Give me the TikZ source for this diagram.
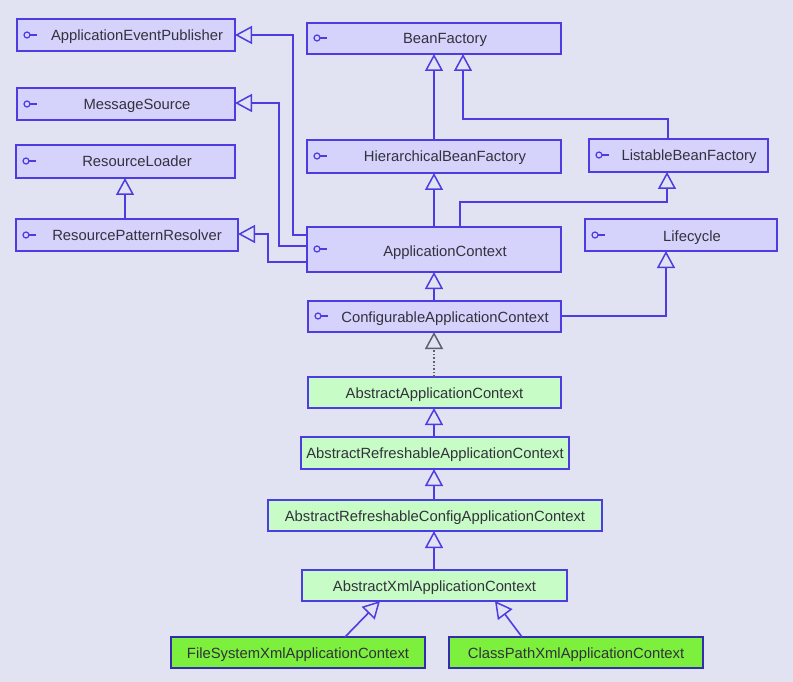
\documentclass[tikz,border=0pt]{standalone}
\usepackage{fontspec}
\setmainfont{Liberation Sans}
\usetikzlibrary{arrows.meta}
\definecolor{bgcol}{RGB}{225,227,243}
\definecolor{ifill}{RGB}{213,210,251}
\definecolor{bline}{RGB}{76,60,226}
\definecolor{afill}{RGB}{200,252,198}
\definecolor{cfill}{RGB}{124,240,60}
\definecolor{cline}{RGB}{50,45,170}
\definecolor{dline}{RGB}{95,95,110}
\definecolor{tcol}{RGB}{50,50,60}
\tikzset{
  x=1pt,y=-1pt,
  iface/.style={draw=bline,fill=ifill,line width=1.6pt},
  absbox/.style={draw=bline,fill=afill,line width=1.6pt},
  conbox/.style={draw=cline,fill=cfill,line width=2.6pt},
  lbl/.style={font=\fontsize{14.8}{16}\selectfont,text=tcol,inner sep=0pt,anchor=base},
  inh/.style={draw=bline,line width=1.6pt,-{Triangle[open,length=17pt,width=18pt,line width=1.5pt]}},
  real/.style={draw=dline,line width=1.6pt,dotted,-{Triangle[open,length=17pt,width=18pt,line width=1.5pt]}},
  ico/.style={draw=bline,line width=1.2pt}
}
\newcommand{\icon}[2]{%
  \draw[ico] (#1+10,#2) circle (3pt);
  \draw[ico] (#1+13,#2) -- (#1+20,#2);
}
\begin{document}
\begin{tikzpicture}
\useasboundingbox (0,0) rectangle (793,682);
\fill[bgcol] (0,0) rectangle (793,682);

% interface boxes
\path[iface] (17,19) rectangle (235,51); \icon{17}{35}
\node[lbl] (AEP) at (137,40.5) {ApplicationEventPublisher};
\path[iface] (17,88) rectangle (235,120); \icon{17}{104}
\node[lbl] (MS) at (137,109.5) {MessageSource};
\path[iface] (16,145) rectangle (235,178); \icon{16}{161}
\node[lbl] (RL) at (137,167) {ResourceLoader};
\path[iface] (16,219) rectangle (238,251); \icon{16}{235}
\node[lbl] (RPR) at (137,240.5) {ResourcePatternResolver};

\path[iface] (307,23) rectangle (561,54); \icon{307}{38}
\node[lbl] (BF) at (445,44) {BeanFactory};
\path[iface] (307,140) rectangle (561,173); \icon{307}{156}
\node[lbl] (HBF) at (445,162) {HierarchicalBeanFactory};
\path[iface,line width=2.6pt] (307,227) rectangle (561,272); \icon{307}{249}
\node[lbl] (AC) at (445,256) {ApplicationContext};
\path[iface] (589,139) rectangle (768,172); \icon{589}{155}
\node[lbl] (LBF) at (689,161) {ListableBeanFactory};
\path[iface] (585,219) rectangle (777,251); \icon{585}{235}
\node[lbl] (LC) at (692,241) {Lifecycle};
\path[iface] (308,301) rectangle (561,332); \icon{308}{316}
\node[lbl] (CAC) at (445,322) {ConfigurableApplicationContext};

% abstract classes
\path[absbox] (308,377) rectangle (561,408);
\node[lbl] (AAC) at (434.5,398.5) {AbstractApplicationContext};
\path[absbox] (301,437) rectangle (569,469);
\node[lbl] (ARAC) at (435,458.5) {AbstractRefreshableApplicationContext};
\path[absbox] (268,500) rectangle (602,531);
\node[lbl] (ARCAC) at (435,521) {AbstractRefreshableConfigApplicationContext};
\path[absbox] (302,570) rectangle (567,601);
\node[lbl] (AXAC) at (434.5,591) {AbstractXmlApplicationContext};

% concrete classes
\path[conbox] (171,637) rectangle (425,668);
\node[lbl] (FS) at (298,658) {FileSystemXmlApplicationContext};
\path[conbox] (449,637) rectangle (703,668);
\node[lbl] (CP) at (576,658) {ClassPathXmlApplicationContext};

% named anchor points
\coordinate (bfB1) at (434,54);
\coordinate (bfB2) at (463,54);
\coordinate (hbfT) at (434,140);
\coordinate (hbfB) at (434,173);
\coordinate (lbfT) at (668,139);
\coordinate (lbfB) at (667,172);
\coordinate (acT1) at (434,227);
\coordinate (acT2) at (460,227);
\coordinate (acB) at (434,272);
\coordinate (acL1) at (307,235);
\coordinate (acL2) at (307,246);
\coordinate (acL3) at (307,262);
\coordinate (aepR) at (235,35);
\coordinate (msR) at (235,103);
\coordinate (rprR) at (238,234);
\coordinate (rprT) at (125,219);
\coordinate (rlB) at (125,178);
\coordinate (lcB) at (666,251);
\coordinate (cacT) at (434,301);
\coordinate (cacB) at (434,332);
\coordinate (cacR) at (561,316);
\coordinate (aacT) at (434,377);
\coordinate (aacB) at (434,408);
\coordinate (aracT) at (434,437);
\coordinate (aracB) at (434,469);
\coordinate (arcT) at (434,500);
\coordinate (arcB) at (434,531);
\coordinate (axT) at (434,570);
\coordinate (axB1) at (380,601);
\coordinate (axB2) at (495,601);
\coordinate (fsT) at (345,637);
\coordinate (cpT) at (522,637);

% connectors
\draw[inh] (hbfT) -- (bfB1);
\draw[inh] (lbfT) |- (463,119) -- (bfB2);
\draw[inh] (acT1) -- (hbfB);
\draw[inh] (acT2) |- (667,202) -- (lbfB);
\draw[inh] (acL1) -| (293,35) -- (aepR);
\draw[inh] (acL2) -| (279,103) -- (msR);
\draw[inh] (acL3) -| (268,234) -- (rprR);
\draw[inh] (rprT) -- (rlB);
\draw[inh] (cacT) -- (acB);
\draw[inh] (cacR) -| (lcB);
\draw[real] (aacT) -- (cacB);
\draw[inh] (aracT) -- (aacB);
\draw[inh] (arcT) -- (aracB);
\draw[inh] (axT) -- (arcB);
\draw[inh] (fsT) -- (axB1);
\draw[inh] (cpT) -- (axB2);
\end{tikzpicture}
\end{document}
